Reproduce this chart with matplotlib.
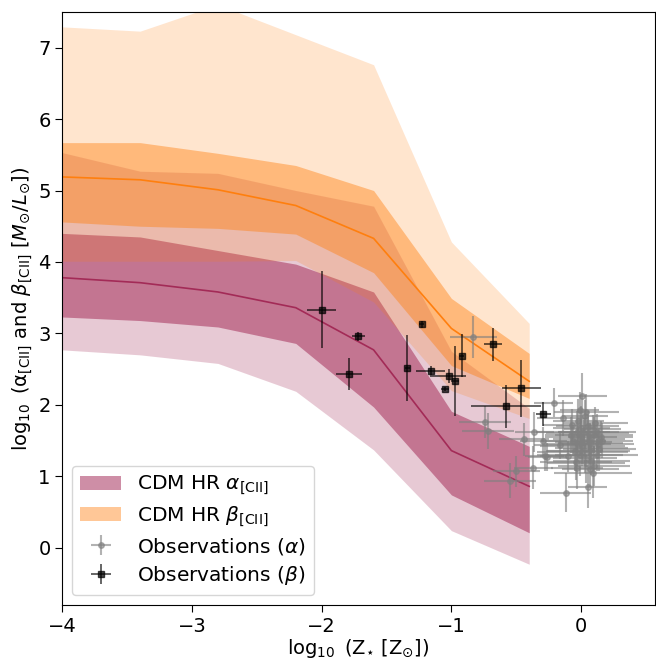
"""
CII conversion factors vs stellar metallicity: CDM HR model bands and observations.
"""
import numpy as np
import matplotlib
matplotlib.use("Agg")
import matplotlib.pyplot as plt

# model grid (log10 Z*/Zsun)
log_z = [-4.0, -3.4, -2.8, -2.2, -1.6, -1.0, -0.4]

# alpha_[CII] percentiles
alpha_lo2 = [2.77, 2.70, 2.58, 2.19, 1.37, 0.24, -0.23]
alpha_lo1 = [3.23, 3.18, 3.09, 2.86, 1.97, 0.74, 0.21]
alpha_med = [3.78, 3.71, 3.58, 3.36, 2.77, 1.36, 0.86]
alpha_hi1 = [4.40, 4.35, 4.16, 3.97, 3.58, 1.91, 1.42]
alpha_hi2 = [5.53, 5.27, 5.24, 5.00, 4.78, 2.75, 1.95]

# beta_[CII] percentiles
beta_lo2 = [4.01, 4.01, 4.01, 4.02, 3.44, 2.20, 1.81]
beta_lo1 = [4.56, 4.50, 4.47, 4.39, 3.85, 2.55, 2.09]
beta_med = [5.19, 5.15, 5.01, 4.79, 4.33, 3.07, 2.33]
beta_hi1 = [5.67, 5.67, 5.52, 5.35, 5.00, 3.49, 2.72]
beta_hi2 = [7.29, 7.23, 7.60, 7.18, 6.76, 4.28, 3.14]

# observations (alpha)
obs_a_x = [-0.83, -0.74, -0.72, -0.44, -0.55, -0.50, -0.37, -0.36, -0.29, -0.28,
           -0.21, -0.14, -0.12, 0.05, 0.01, -0.01, -0.16, -0.26,
           0.00, 0.02, -0.03, 0.05, 0.08, 0.10, -0.05, 0.03, 0.12, -0.02,
           0.06, 0.01, 0.09, -0.06, 0.04, 0.13, 0.07, -0.01, 0.11, 0.02,
           -0.04, 0.06, 0.15, 0.00, 0.08, -0.08, 0.03, 0.10, 0.05, -0.02,
           0.14, -0.07, 0.09, 0.04, -0.03, 0.12, 0.01, 0.07, -0.10, 0.16]
obs_a_y = [2.95, 1.76, 1.63, 1.52, 0.94, 1.07, 1.12, 1.62, 1.49, 1.28,
           2.03, 1.82, 0.77, 0.85, 2.12, 1.93, 1.44, 1.27,
           1.55, 1.48, 1.62, 1.70, 1.40, 1.58, 1.35, 1.25, 1.30, 1.78,
           1.52, 1.42, 1.66, 1.50, 1.18, 1.45, 1.10, 1.30, 1.75, 1.62,
           1.20, 1.36, 1.55, 1.68, 1.22, 1.58, 1.85, 1.15, 1.60, 1.45,
           1.38, 1.72, 1.05, 1.90, 1.12, 1.62, 1.34, 1.47, 1.28, 1.50]
obs_a_xerr = [0.18, 0.20, 0.20, 0.19, 0.20, 0.18, 0.15, 0.15, 0.18, 0.15,
              0.15, 0.20, 0.20, 0.15, 0.19, 0.15, 0.20, 0.15,
              0.28, 0.22, 0.32, 0.24, 0.28, 0.30, 0.22, 0.25, 0.32, 0.20,
              0.28, 0.33, 0.22, 0.25, 0.30, 0.28, 0.22, 0.33, 0.25, 0.20,
              0.28, 0.32, 0.25, 0.22, 0.30, 0.20, 0.18, 0.28, 0.32, 0.25,
              0.28, 0.22, 0.30, 0.25, 0.20, 0.30, 0.35, 0.25, 0.22, 0.24]
obs_a_yerr = [0.30, 0.22, 0.25, 0.23, 0.25, 0.22, 0.30, 0.28, 0.20, 0.20,
              0.20, 0.25, 0.27, 0.30, 0.33, 0.25, 0.20, 0.20,
              0.25, 0.20, 0.30, 0.22, 0.18, 0.25, 0.28, 0.20, 0.22, 0.30,
              0.18, 0.25, 0.20, 0.22, 0.28, 0.20, 0.25, 0.30, 0.22, 0.20,
              0.25, 0.18, 0.22, 0.30, 0.20, 0.25, 0.22, 0.28, 0.20, 0.25,
              0.30, 0.22, 0.35, 0.25, 0.30, 0.25, 0.20, 0.28, 0.22, 0.25]

# observations (beta)
obs_b_x = [-2.00, -1.72, -1.79, -1.23, -1.34, -1.16, -1.02, -0.97, -1.05,
           -0.92, -0.68, -0.46, -0.58, -0.29]
obs_b_y = [3.33, 2.96, 2.43, 3.13, 2.52, 2.47, 2.40, 2.33, 2.22,
           2.69, 2.85, 2.23, 1.98, 1.87]
obs_b_xerr = [0.11, 0.05, 0.10, 0.02, 0.02, 0.11, 0.13, 0.03, 0.03,
              0.02, 0.07, 0.15, 0.27, 0.06]
obs_b_yerr = [0.54, 0.06, 0.22, 0.05, 0.46, 0.08, 0.10, 0.49, 0.03,
              0.30, 0.23, 0.40, 0.30, 0.17]

alpha_col = '#a32b57'
beta_col = '#ff7f0e'

fig = plt.figure(figsize=(6.56, 6.59), dpi=100)
ax = fig.add_axes([0.095, 0.082, 0.9035, 0.900])

# alpha bands
ax.fill_between(log_z, alpha_lo2, alpha_hi2, color=alpha_col, alpha=0.25, lw=0)
ax.fill_between(log_z, alpha_lo1, alpha_hi1, color=alpha_col, alpha=0.53, lw=0,
                label=r'CDM HR $\alpha_{\rm [CII]}$')
ax.plot(log_z, alpha_med, color=alpha_col, lw=1.2)

# beta bands
ax.fill_between(log_z, beta_lo2, beta_hi2, color=beta_col, alpha=0.2, lw=0)
ax.fill_between(log_z, beta_lo1, beta_hi1, color=beta_col, alpha=0.43, lw=0,
                label=r'CDM HR $\beta_{\rm [CII]}$')
ax.plot(log_z, beta_med, color=beta_col, lw=1.2)

# observations
ax.errorbar(obs_a_x, obs_a_y, xerr=obs_a_xerr, yerr=obs_a_yerr, fmt='o',
            color='grey', ms=4, elinewidth=1.5, alpha=0.6,
            label=r'Observations ($\alpha$)')
ax.errorbar(obs_b_x, obs_b_y, xerr=obs_b_xerr, yerr=obs_b_yerr, fmt='s',
            color='k', ms=5, elinewidth=1.2, alpha=0.7,
            label=r'Observations ($\beta$)')

ax.set_xlim(-4, 0.57)
ax.set_ylim(-0.8, 7.5)
ax.set_xticks([-4, -3, -2, -1, 0])
ax.set_yticks([0, 1, 2, 3, 4, 5, 6, 7])
ax.tick_params(labelsize=14, length=5)

ax.set_xlabel('$\\log_{10}$ (Z$_{\\mathrm{\u22c6}}$ [Z$_{\\mathrm{\u2299}}$])',
              fontsize=14, labelpad=1)
ax.set_ylabel('$\\log_{10}$ (\u03b1$_{\\rm [CII]}$ and $\\beta_{\\rm [CII]}$ '
              '[$M_{\u2299}/L_{\u2299}$])', fontsize=14, labelpad=2)

ax.legend(loc='lower left', fontsize=14.5, labelspacing=0.35)

fig.savefig('out.png', dpi=100)
